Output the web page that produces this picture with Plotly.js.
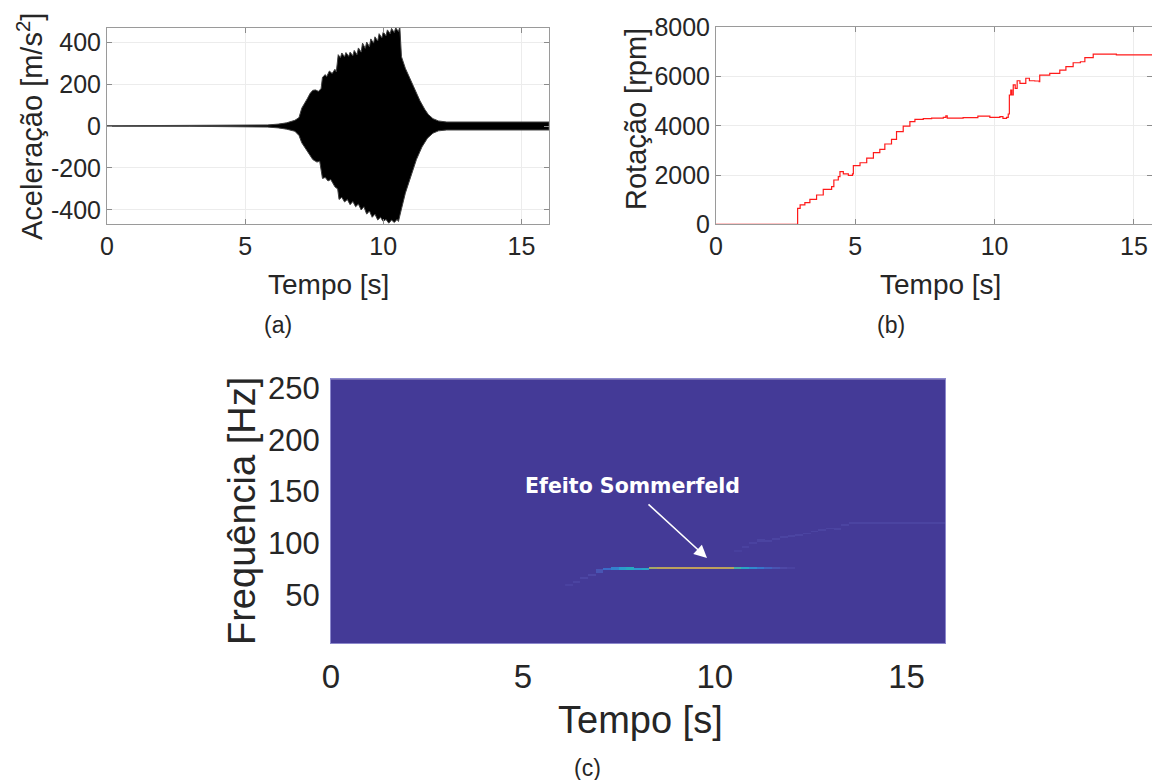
<!DOCTYPE html>
<html>
<head>
<meta charset="utf-8">
<script src="https://cdn.plot.ly/plotly-3.0.1.min.js"></script>
<style>html,body{margin:0;padding:0;background:#fff;}#chart{width:1152px;height:780px;}</style>
</head>
<body>
<div id="chart"></div>
<script>
// ---------- (a) acceleration envelope [m/s^2] ----------
const accTimeUp = [0, 3, 5, 5.8, 6.2, 6.5, 6.8, 6.95, 7.05, 7.15, 7.25, 7.35, 7.45, 7.55, 7.65, 7.75, 7.8, 7.9, 7.95, 8.05, 8.15, 8.25, 8.3, 8.37, 8.45, 8.5, 8.6, 8.65, 8.75, 8.8, 8.9, 8.95, 9.05, 9.1, 9.2, 9.25, 9.35, 9.4, 9.5, 9.55, 9.65, 9.7, 9.8, 9.85, 9.95, 10.0, 10.1, 10.15, 10.25, 10.3, 10.4, 10.45, 10.55, 10.6, 10.66, 10.8, 10.97, 11.15, 11.33, 11.5, 11.63, 11.8, 12.0, 12.3, 16];
const accUp     = [1, 1.5, 3, 5, 9, 15, 27, 40, 85, 105, 130, 155, 170, 172, 165, 178, 232, 245, 235, 262, 250, 270, 258, 340, 325, 348, 330, 350, 332, 352, 335, 360, 340, 372, 352, 395, 370, 400, 378, 415, 395, 425, 405, 440, 420, 448, 430, 458, 440, 465, 445, 468, 450, 472, 330, 275, 225, 170, 120, 80, 55, 35, 24, 19, 19];
const accTimeLow = [0, 3, 5, 5.8, 6.2, 6.5, 6.8, 6.95, 7.05, 7.15, 7.3, 7.45, 7.6, 7.7, 7.8, 7.9, 8.0, 8.1, 8.25, 8.35, 8.4, 8.5, 8.6, 8.7, 8.8, 8.9, 9.0, 9.1, 9.2, 9.3, 9.4, 9.5, 9.6, 9.7, 9.8, 9.9, 10.0, 10.1, 10.2, 10.3, 10.4, 10.5, 10.55, 10.65, 10.8, 11.0, 11.2, 11.4, 11.6, 11.8, 12.0, 12.3, 16];
const accLow     = [-1, -1.5, -3, -5, -9, -15, -25, -45, -80, -95, -130, -160, -172, -168, -250, -245, -262, -255, -290, -300, -350, -340, -362, -350, -375, -360, -385, -372, -400, -385, -420, -405, -435, -420, -448, -435, -455, -445, -463, -448, -460, -445, -455, -400, -320, -235, -160, -100, -58, -34, -23, -19, -19];

// ---------- (b) rotation [rpm] ----------
const rpmTime = [0, 2.92, 2.93, 3.02, 3.19, 3.37, 3.61, 3.85, 4.15, 4.23, 4.39, 4.45, 4.57, 4.75, 4.9, 4.93, 5.17, 5.41, 5.65, 5.88, 6.06, 6.3, 6.48, 6.72, 6.96, 7.14, 7.44, 7.74, 8.16, 8.25, 8.3, 8.87, 9.35, 9.4, 9.83, 10.19, 10.3, 10.43, 10.49, 10.53, 10.58, 10.62, 10.67, 10.74, 10.81, 10.91, 11.12, 11.25, 11.44, 11.6, 11.62, 11.98, 12.34, 12.56, 12.82, 13.08, 13.24, 13.54, 13.9, 14.37, 15.65];
const rpmVal  = [0, 0, 650, 785, 880, 1015, 1190, 1420, 1530, 1800, 1940, 2140, 2045, 1990, 2045, 2380, 2500, 2690, 2910, 3045, 3260, 3450, 3760, 3990, 4170, 4260, 4290, 4310, 4340, 4400, 4310, 4330, 4330, 4390, 4340, 4370, 4300, 4340, 4480, 5250, 5450, 5250, 5660, 5520, 5830, 5720, 5930, 5830, 5820, 5790, 6060, 6130, 6260, 6400, 6560, 6600, 6770, 6910, 6910, 6880, 6870];

// ---------- (c) spectrogram ridges ----------
const fundTime = [6.2, 6.4, 6.6, 6.8, 7.0, 7.2, 7.4, 7.6, 7.8, 8.0, 8.2, 8.4, 8.6, 8.8, 9.0, 9.2, 9.4, 9.6, 9.8, 10.0, 10.2, 10.4, 10.6, 10.8, 11.0, 11.2, 11.4, 11.6, 11.8, 12.0];
const fundFreq = [60, 63, 67, 70, 73.5, 75, 75.5, 75.5, 75.5, 75, 75, 76, 76, 76, 76, 76, 76, 76, 76, 76, 76, 76, 76, 76, 76, 76, 76, 76, 76, 76];
const fundAmp  = [0.05, 0.06, 0.07, 0.08, 0.15, 0.25, 0.32, 0.42, 0.48, 0.4, 0.45, 0.75, 0.8, 0.82, 0.84, 0.86, 0.88, 0.9, 0.88, 0.86, 0.84, 0.8, 0.55, 0.45, 0.35, 0.28, 0.2, 0.14, 0.09, 0.05];
const harmTime = [10.6, 10.8, 11.0, 11.2, 11.4, 11.6, 11.8, 12.0, 12.2, 12.4, 12.6, 12.8, 13.0, 13.2, 13.4, 13.6, 13.8, 14.0, 14.2, 14.4, 14.6, 14.8, 15.0, 15.2, 15.4, 15.6, 15.8, 16.0];
const harmFreq = [93, 97, 101, 103, 102.5, 104, 106, 107, 108, 109.5, 111.5, 113, 114.5, 114, 118, 120, 120, 120, 120, 120, 120, 120, 120, 120, 120, 120, 120, 120];
const harmAmp  = [0.04, 0.05, 0.05, 0.06, 0.06, 0.06, 0.06, 0.06, 0.06, 0.06, 0.06, 0.06, 0.06, 0.06, 0.06, 0.06, 0.06, 0.06, 0.06, 0.06, 0.06, 0.06, 0.06, 0.06, 0.06, 0.06, 0.06, 0.06];

const xTicks = [0, 5, 10, 15];
const accTicks = [-400, -200, 0, 200, 400];
const accTickText = ['-400', '-200', '0', '200', '400'];
const rpmTicks = [0, 2000, 4000, 6000, 8000];
const freqTicks = [50, 100, 150, 200, 250];

// frequency bins (1 Hz) for spectrogram grid
const freqBins = [];
for (let f = 3.5; f <= 258.5; f += 1) freqBins.push(f);

function ridgeGrid(times, freqs, amps, halfW) {
  return freqBins.map(fb => times.map((t, j) => Math.abs(fb - freqs[j]) <= halfW ? amps[j] : null));
}

const specScale = [
  [0, '#443a97'], [0.1, '#4f4aa8'], [0.25, '#3a6cc8'], [0.4, '#2c98d0'],
  [0.5, '#26adbc'], [0.65, '#7cb07a'], [0.8, '#b8a25e'], [1, '#cc9a5a']
];

const FONT = 'Liberation Sans, Arial, Helvetica, sans-serif';
const TXT = '#262626';

const traces = [
  {
    x: accTimeUp.concat(accTimeLow.slice().reverse()),
    y: accUp.concat(accLow.slice().reverse()),
    type: 'scatter', mode: 'lines', fill: 'toself',
    fillcolor: '#000000', line: {color: '#404040', width: 1},
    xaxis: 'x', yaxis: 'y', hoverinfo: 'skip', showlegend: false
  },
  {
    x: rpmTime, y: rpmVal, type: 'scatter', mode: 'lines',
    line: {color: '#ff1a1a', width: 1.2, shape: 'hv'},
    xaxis: 'x2', yaxis: 'y2', showlegend: false
  },
  {
    type: 'heatmap', x: harmTime, y: freqBins, z: ridgeGrid(harmTime, harmFreq, harmAmp, 0.8),
    colorscale: specScale, zmin: 0, zmax: 1, showscale: false, zsmooth: false,
    xaxis: 'x3', yaxis: 'y3', hoverinfo: 'skip'
  },
  {
    type: 'heatmap', x: fundTime, y: freqBins, z: ridgeGrid(fundTime, fundFreq, fundAmp, 1.1),
    colorscale: specScale, zmin: 0, zmax: 1, showscale: false, zsmooth: false,
    xaxis: 'x3', yaxis: 'y3', hoverinfo: 'skip'
  }
];

function boxAxis(extra) {
  return Object.assign({
    ticks: 'inside', ticklen: 5, tickcolor: '#8c8c8c', tickwidth: 1,
    showline: true, linecolor: '#9a9a9a', linewidth: 1, mirror: 'ticks',
    showgrid: true, gridcolor: '#ececec', zeroline: false, automargin: false,
    tickfont: {family: FONT, size: 25, color: TXT}
  }, extra);
}

function label(text, xpx, ypx, size, angle) {
  return {text: text, xref: 'paper', yref: 'paper', x: xpx / 1152, y: 1 - ypx / 780,
    xanchor: 'center', yanchor: 'middle', showarrow: false, textangle: angle || 0,
    font: {family: FONT, size: size, color: TXT}};
}

const layout = {
  width: 1152, height: 780,
  margin: {l: 0, r: 0, t: 0, b: 0},
  paper_bgcolor: '#ffffff', plot_bgcolor: '#ffffff',
  font: {family: FONT, color: TXT},
  showlegend: false,
  xaxis: boxAxis({domain: [107/1152, 549/1152], range: [0, 16], tickvals: xTicks, anchor: 'y'}),
  yaxis: boxAxis({domain: [1 - 224/780, 1 - 28/780], range: [-467, 467], tickvals: accTicks, ticktext: accTickText, anchor: 'x'}),
  xaxis2: boxAxis({domain: [716/1152, 1], range: [0, 15.65], tickvals: xTicks, anchor: 'y2'}),
  yaxis2: boxAxis({domain: [1 - 224.3/780, 1 - 27.3/780], range: [0, 8000], tickvals: rpmTicks, anchor: 'x2'}),
  xaxis3: {domain: [331/1152, 945/1152], range: [0, 16], tickvals: xTicks, anchor: 'y3',
    ticks: '', showline: true, linecolor: '#8c88cc', linewidth: 1, mirror: true,
    showgrid: false, zeroline: false, automargin: false, ticklabelstandoff: 4,
    tickfont: {family: FONT, size: 33, color: TXT}},
  yaxis3: {domain: [1 - 643.3/780, 1 - 379.3/780], range: [3.2, 258.7], tickvals: freqTicks, anchor: 'x3',
    ticks: '', showline: true, linecolor: '#8c88cc', linewidth: 1, mirror: true,
    showgrid: false, zeroline: false, automargin: false, ticklabelstandoff: 4,
    tickfont: {family: FONT, size: 31, color: TXT}},
  shapes: [
    {type: 'rect', xref: 'x3 domain', yref: 'y3 domain', x0: 0, x1: 1, y0: 0, y1: 1,
     fillcolor: '#443a97', line: {width: 0}, layer: 'below'}
  ],
  annotations: [
    label('Tempo [s]', 328, 284, 28),
    label('Aceleração [m/s<sup>2</sup>]', 30, 127, 29, -90),
    label('Tempo [s]', 940, 284, 28),
    label('Rotação [rpm]', 636, 119, 29, -90),
    label('Tempo [s]', 640, 720, 38),
    label('Frequência [Hz]', 242, 511, 38, -90),
    label('(a)', 278, 325, 23),
    label('(b)', 891, 325, 23),
    label('(c)', 587, 768, 23),
    {text: '<b>Efeito Sommerfeld</b>', xref: 'paper', yref: 'paper', x: 632/1152, y: 1 - 486/780,
     showarrow: false, font: {family: 'DejaVu Sans, Verdana, sans-serif', size: 20.5, color: '#ffffff'}},
    {text: '', xref: 'paper', yref: 'paper', x: 707/1152, y: 1 - 558/780,
     axref: 'pixel', ayref: 'pixel', ax: -60, ay: -55, showarrow: true,
     arrowhead: 2, arrowsize: 1.6, arrowwidth: 1.6, arrowcolor: '#ffffff', standoff: 0}
  ]
};

Plotly.newPlot('chart', traces, layout, {staticPlot: true, displayModeBar: false});
</script>
</body>
</html>
